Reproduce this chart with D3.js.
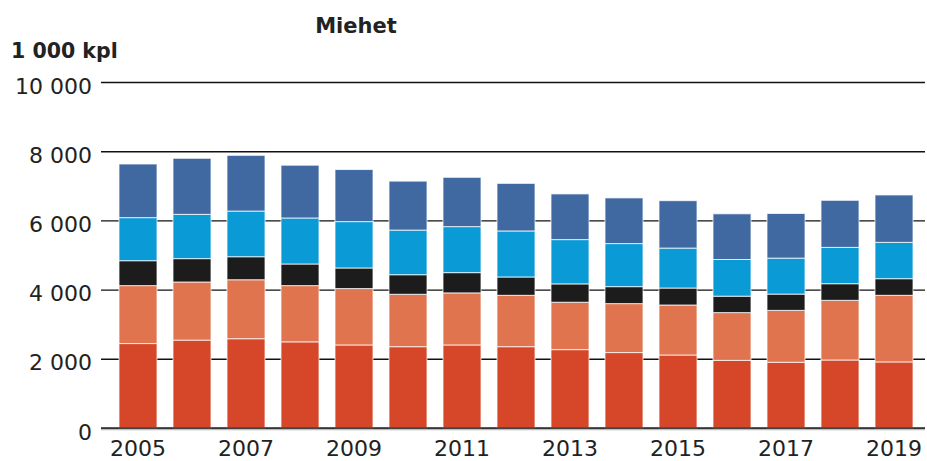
<!DOCTYPE html>
<html>
<head>
<meta charset="utf-8">
<script src="https://cdn.jsdelivr.net/npm/d3@7"></script>
<style>
  body { margin: 0; background: #fff; }
  text { font-family: "DejaVu Sans", sans-serif; fill: #222; }
</style>
</head>
<body>
<main></main>
<script>
// data (1 000 kpl)
const years = [2005, 2006, 2007, 2008, 2009, 2010, 2011, 2012, 2013, 2014, 2015, 2016, 2017, 2018, 2019];
const red = [2440, 2540, 2580, 2490, 2400, 2350, 2400, 2350, 2265, 2180, 2110, 1955, 1900, 1965, 1910];
const orange = [1675, 1680, 1705, 1625, 1630, 1515, 1505, 1485, 1370, 1415, 1445, 1380, 1500, 1725, 1925];
const black = [720, 675, 665, 625, 595, 565, 585, 530, 530, 490, 490, 475, 470, 480, 480];
const lightBlue = [1245, 1280, 1320, 1330, 1340, 1290, 1330, 1330, 1280, 1245, 1155, 1060, 1040, 1050, 1050];
const darkBlue = [1550, 1620, 1610, 1525, 1505, 1415, 1425, 1375, 1320, 1320, 1370, 1320, 1290, 1360, 1370];
const yTicks = [0, 2000, 4000, 6000, 8000, 10000];
const yearTicks = [2005, 2007, 2009, 2011, 2013, 2015, 2017, 2019];

const seriesKeys = ["red", "orange", "black", "lightBlue", "darkBlue"];
const colors = {
  red: "#d54728",
  orange: "#e0744f",
  black: "#1c1c1c",
  lightBlue: "#0a9bd7",
  darkBlue: "#4169a1",
};

const rows = years.map((yr, i) => ({
  year: yr,
  red: red[i],
  orange: orange[i],
  black: black[i],
  lightBlue: lightBlue[i],
  darkBlue: darkBlue[i],
}));

const W = 927, H = 461;
const svg = d3.select("main").append("svg")
  .attr("width", W)
  .attr("height", H);

const x = d3.scaleBand()
  .domain(years)
  .range([111, 921])
  .paddingInner(16 / 54)
  .paddingOuter(8 / 54);

const y = d3.scaleLinear()
  .domain([0, 10000])
  .range([428, 82]);

const fmt = d3.formatLocale({ decimal: ",", thousands: "\u00a0", grouping: [3], currency: ["", ""] }).format(",d");

// y axis with gridlines
const yAxis = svg.append("g")
  .attr("transform", "translate(101,0)")
  .call(d3.axisLeft(y).tickValues(yTicks).tickFormat(fmt).tickSize(-824).tickPadding(9));
yAxis.select(".domain").remove();
yAxis.selectAll(".tick line").attr("stroke", "#111").attr("stroke-width", 1.4);
yAxis.selectAll(".tick text")
  .attr("dy", "0.5em")
  .attr("font-size", "22px")
  .attr("font-family", "DejaVu Sans")
  .attr("fill", "#222");

// bars
const stack = d3.stack().keys(seriesKeys)(rows);
svg.append("g")
  .selectAll("g")
  .data(stack)
  .join("g")
  .attr("fill", (d) => colors[d.key])
  .selectAll("rect")
  .data((d) => d)
  .join("rect")
  .attr("x", (d) => x(d.data.year))
  .attr("y", (d) => y(d[1]))
  .attr("width", x.bandwidth())
  .attr("height", (d) => y(d[0]) - y(d[1]))
  .attr("stroke", "rgba(255,255,255,0.75)")
  .attr("stroke-width", 1);

// baseline
svg.append("line")
  .attr("x1", 101).attr("x2", 925)
  .attr("y1", y(0) + 1.5).attr("y2", y(0) + 1.5)
  .attr("stroke", "#bbb").attr("stroke-width", 1.5);
svg.append("line")
  .attr("x1", 101).attr("x2", 925)
  .attr("y1", y(0)).attr("y2", y(0))
  .attr("stroke", "#333").attr("stroke-width", 1.5);

// x axis
const xAxis = svg.append("g")
  .attr("transform", `translate(0,${y(0)})`)
  .call(d3.axisBottom(x).tickValues(yearTicks).tickSize(0).tickPadding(12));
xAxis.select(".domain").remove();
xAxis.selectAll(".tick text")
  .attr("font-size", "22px")
  .attr("font-family", "DejaVu Sans")
  .attr("fill", "#222");

// titles
svg.append("text")
  .attr("x", 356).attr("y", 33)
  .attr("text-anchor", "middle")
  .attr("font-weight", "bold")
  .attr("font-size", "21px")
  .text("Miehet");
svg.append("text")
  .attr("x", 11).attr("y", 58)
  .attr("font-weight", "bold")
  .attr("font-size", "20.5px")
  .text("1 000 kpl");
</script>
</body>
</html>
